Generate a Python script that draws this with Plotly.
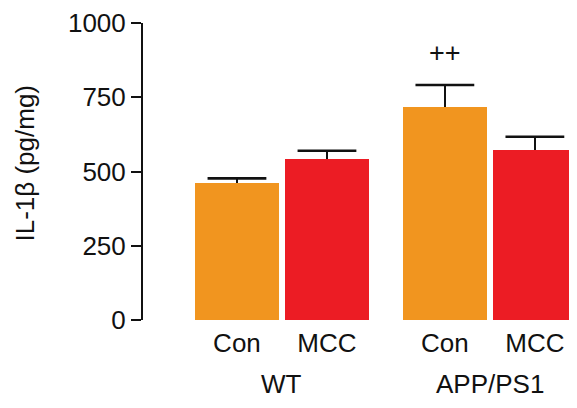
import plotly.graph_objects as go

groups = ["WT", "WT", "APP/PS1", "APP/PS1"]
treatments = ["Con", "MCC", "Con", "MCC"]
values = [460, 543, 718, 573]
errors = [17, 27, 73, 44]
colors = ["#F1951F", "#EC1C24", "#F1951F", "#EC1C24"]
y_ticks = [0, 250, 500, 750, 1000]
group_names = ["WT", "APP/PS1"]

# x positions: bars within a group 1 unit apart, groups separated by a gap
gap = 1.31
xpos = [0, 1, 1 + gap, 2 + gap]

FONT = "Liberation Sans, Arial, sans-serif"
INK = "#111111"

fig = go.Figure()
fig.add_trace(go.Bar(
    x=xpos, y=values,
    marker=dict(color=colors, line=dict(width=0)),
    width=0.93,
    error_y=dict(type="data", array=errors, symmetric=False, arrayminus=[0]*4,
                 color=INK, thickness=2.6, width=0),
    showlegend=False, hoverinfo="skip",
))
# caps only at the upper end of the error bars
fig.add_trace(go.Scatter(
    x=xpos, y=[v + e for v, e in zip(values, errors)], mode="markers",
    marker=dict(symbol="line-ew", size=42, line=dict(color=INK, width=2.6)),
    showlegend=False, hoverinfo="skip",
))

fig.add_annotation(x=xpos[2], y=900, text="++", showarrow=False,
                   font=dict(size=27, color=INK, family=FONT),
                   xanchor="center", yanchor="middle")

group_centers = [(xpos[0] + xpos[1]) / 2, (xpos[2] + xpos[3]) / 2]
for name, cx in zip(group_names, group_centers):
    fig.add_annotation(x=cx, y=-0.217, xref="x", yref="paper", text=name,
                       showarrow=False, font=dict(size=26, color=INK, family=FONT),
                       xanchor="center", yanchor="middle")

fig.add_annotation(x=-0.272, y=0.53, xref="paper", yref="paper",
                   text="IL-1β (pg/mg)", textangle=-90, showarrow=False,
                   font=dict(size=26, color=INK, family=FONT),
                   xanchor="center", yanchor="middle")

# page body has an 8px default margin; size/margins compensate for it
fig.update_layout(
    width=569, height=400,
    margin=dict(l=135, r=0, t=13, b=88, pad=0),
    paper_bgcolor="white", plot_bgcolor="white",
    font=dict(family=FONT, size=26, color=INK),
    xaxis=dict(range=[-1.044, 3.778], tickvals=xpos, ticktext=treatments,
               showline=False, showgrid=False, zeroline=False, ticks="",
               tickfont=dict(size=26), ticklabelstandoff=5),
    yaxis=dict(range=[0, 1000], tickvals=y_ticks, showline=True, linecolor=INK,
               linewidth=2, ticks="outside", ticklen=10, tickwidth=2, tickcolor=INK,
               showgrid=False, zeroline=False, tickfont=dict(size=26),
               ticklabeloverflow="allow"),
    bargap=0,
)

fig.write_html("out.html")
